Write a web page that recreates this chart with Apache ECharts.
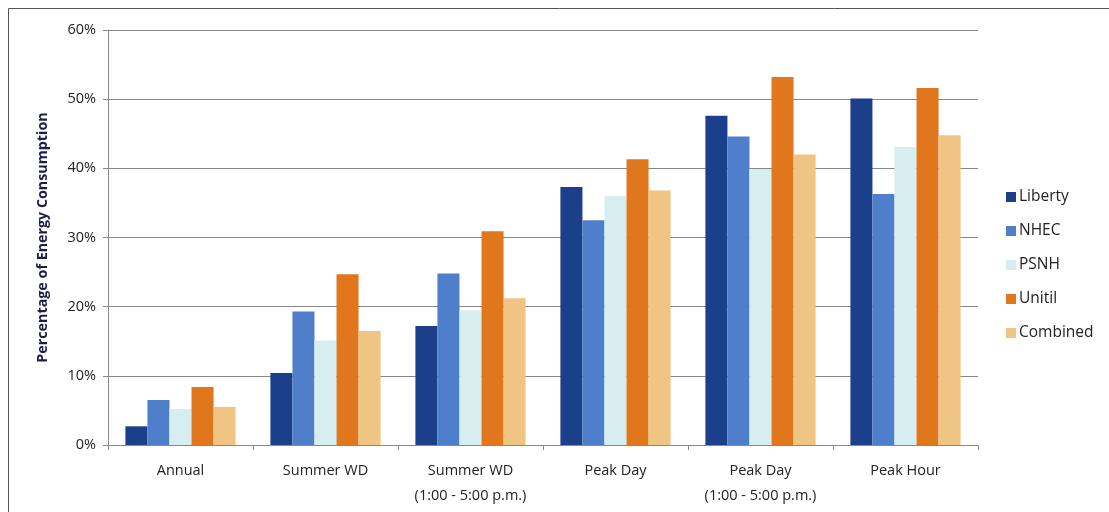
<!DOCTYPE html>
<html>
<head>
<meta charset="utf-8">
<script src="https://cdn.jsdelivr.net/npm/echarts@6/dist/echarts.min.js"></script>
<style>
html,body{margin:0;padding:0;background:#fff;}
#c{width:1109px;height:512px;}
</style>
</head>
<body>
<div id="c"></div>
<script>
const categories = ['Annual', 'Summer WD', 'Summer WD\n(1:00 - 5:00 p.m.)', 'Peak Day', 'Peak Day\n(1:00 - 5:00 p.m.)', 'Peak Hour'];
const seriesNames = ['Liberty', 'NHEC', 'PSNH', 'Unitil', 'Combined'];
const liberty  = [2.7, 10.4, 17.2, 37.3, 47.6, 50.1];
const nhec     = [6.5, 19.3, 24.8, 32.5, 44.6, 36.3];
const psnh     = [5.2, 15.1, 19.5, 36.0, 39.9, 43.1];
const unitil   = [8.4, 24.7, 30.9, 41.3, 53.2, 51.6];
const combined = [5.5, 16.5, 21.2, 36.8, 42.0, 44.8];
const yTicks = [0, 10, 20, 30, 40, 50, 60];

const dataSets = [liberty, nhec, psnh, unitil, combined];
const colors = ['#1b3f8b', '#4f7fcb', '#d6eef0', '#e0771d', '#f0c584'];
const font = '"Open Sans", "Liberation Sans", sans-serif';

const chart = echarts.init(document.getElementById('c'), null, {renderer: 'canvas'});
chart.setOption({
  animation: false,
  backgroundColor: '#fff',
  graphic: [{
    type: 'rect',
    shape: {x: 8.5, y: 8.5, width: 1120, height: 520},
    style: {fill: 'none', stroke: '#555', lineWidth: 1}
  }],
  grid: {left: 108, right: 131, top: 30, bottom: 67},
  legend: {
    orient: 'vertical',
    left: 1001,
    top: 184,
    itemWidth: 10,
    itemHeight: 10,
    itemGap: 18,
    icon: 'rect',
    textStyle: {fontFamily: font, fontSize: 15.5, color: '#222', padding: [0, 0, 0, -2]},
    data: seriesNames
  },
  xAxis: {
    type: 'category',
    data: categories,
    axisLine: {lineStyle: {color: '#888', width: 1}},
    axisTick: {show: true, length: 5, lineStyle: {color: '#888'}},
    axisLabel: {fontFamily: font, fontSize: 14.5, color: '#222', margin: 13, lineHeight: 25, interval: 0}
  },
  yAxis: {
    type: 'value',
    min: yTicks[0],
    max: yTicks[yTicks.length - 1],
    interval: 10,
    name: 'Percentage of Energy Consumption',
    nameLocation: 'middle',
    nameGap: 58,
    nameTextStyle: {fontFamily: font, fontSize: 14.3, fontWeight: 'bold', color: '#1a1f4a'},
    axisLine: {show: true, lineStyle: {color: '#888'}},
    axisTick: {show: true, length: 5, lineStyle: {color: '#888'}},
    axisLabel: {fontFamily: font, fontSize: 14.5, color: '#222', margin: 12, formatter: v => v + '%'},
    splitLine: {lineStyle: {color: '#888', width: 1}}
  },
  series: seriesNames.map((n, i) => ({
    name: n,
    type: 'bar',
    data: dataSets[i],
    barGap: '0%',
    barCategoryGap: '24%',
    itemStyle: {color: colors[i]}
  }))
});
</script>
</body>
</html>
